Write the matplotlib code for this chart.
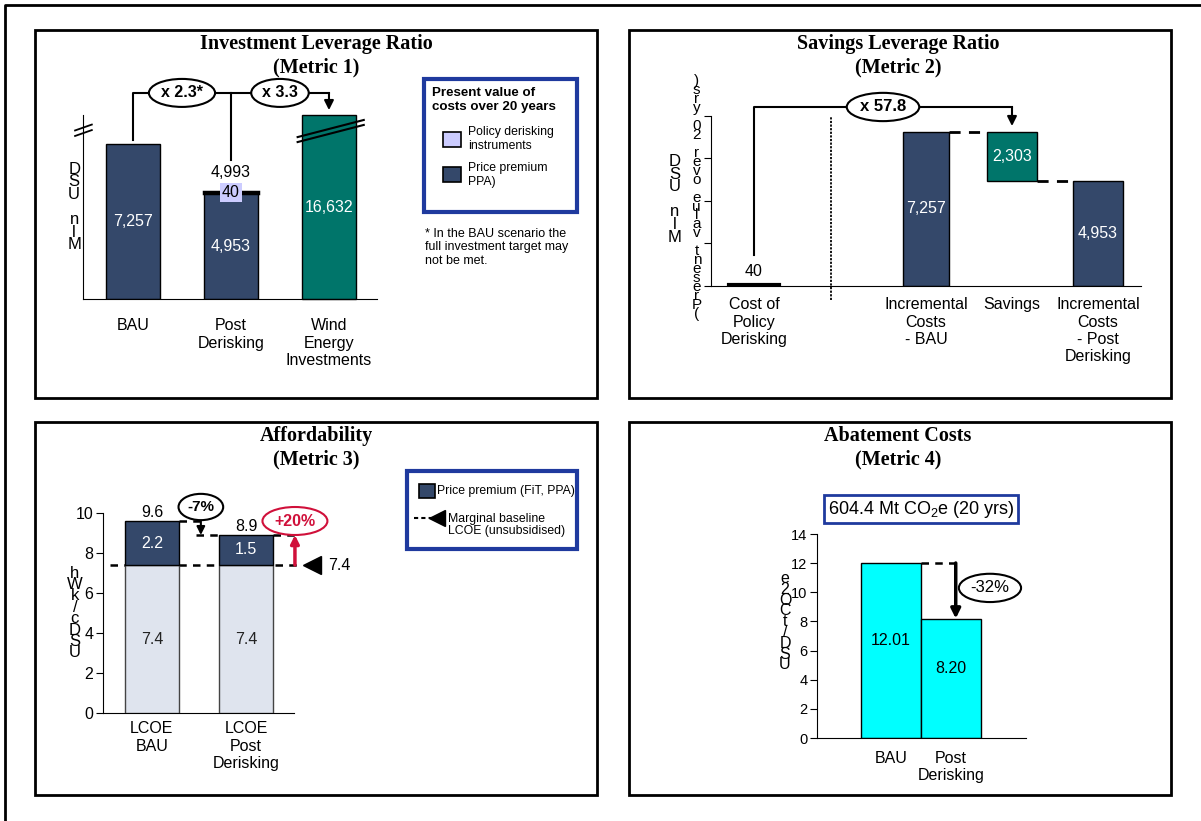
import matplotlib
matplotlib.use('Agg')
import matplotlib.pyplot as plt
from matplotlib.patches import Rectangle

# Metric 1 - investment leverage (mln USD)
m1_cats = ['BAU', 'Post\nDerisking', 'Wind\nEnergy\nInvestments']
m1_premium = [7257, 4953]
m1_policy = 40
m1_wind = 16632
m1_ratios = ['x 2.3*', 'x 3.3']

# Metric 2 - savings leverage (mln USD)
m2_cats = ['Cost of\nPolicy\nDerisking', 'Incremental\nCosts\n- BAU', 'Savings',
           'Incremental\nCosts\n- Post\nDerisking']
m2_policy_cost = 40
m2_bau = 7257
m2_savings = 2303
m2_post = 4953
m2_ratio = 'x 57.8'

# Metric 3 - affordability (USDc/kWh)
m3_cats = ['LCOE\nBAU', 'LCOE\nPost\nDerisking']
m3_lcoe = [7.4, 7.4]
m3_premium = [2.2, 1.5]
m3_baseline = 7.4
m3_changes = ['-7%', '+20%']

# Metric 4 - abatement costs (USD/tCO2e)
m4_cats = ['BAU', 'Post\nDerisking']
m4_cost = [12.01, 8.20]
m4_change = '-32%'
m4_abatement = '604.4 Mt CO$_2$e (20 yrs)'

NAVY = '#34486a'
TEAL = '#00756a'
LILAC = '#ccccff'
LIGHT = '#dfe4ee'
CYAN = '#00ffff'
BLUE = '#1f3a9e'
RED = '#d0103a'

plt.rcParams['font.family'] = ['Liberation Sans', 'DejaVu Sans']
plt.rcParams['mathtext.default'] = 'regular'

W, H = 1201, 821
fig = plt.figure(figsize=(W / 100, H / 100), dpi=100)

# overlay in pixel coordinates for frames, titles, legends
ov = fig.add_axes([0, 0, 1, 1], zorder=0)
ov.set_xlim(0, W)
ov.set_ylim(H, 0)
ov.axis('off')


def px_axes(x0, y0, x1, y1):
    a = fig.add_axes([x0 / W, 1 - y1 / H, (x1 - x0) / W, (y1 - y0) / H], zorder=2)
    a.set_facecolor('none')
    for s in ['top', 'right']:
        a.spines[s].set_visible(False)
    return a


def stacked(s):
    return '\n'.join(reversed(s))


def tag(ax, x, y, s, color='black', size=11, weight='bold'):
    ax.text(x, y, s, ha='center', va='center', fontsize=size, fontweight=weight, color=color,
            bbox=dict(boxstyle='ellipse,pad=0.15', fc='white', ec=color, lw=1.5), zorder=6,
            clip_on=False)


def arrow(ax, start, end, color='black', lw=1.5, ms=14):
    ax.annotate('', xy=end, xytext=start,
                arrowprops=dict(arrowstyle='-|>', color=color, lw=lw, mutation_scale=ms,
                                shrinkA=0, shrinkB=0), annotation_clip=False, zorder=5)


# outer frame and panel frames
ov.plot([5, 5, W], [H, 5, 5], color='black', lw=2)
for (x0, y0, x1, y1) in [(35, 30, 597, 398), (629, 30, 1171, 398),
                         (35, 422, 597, 795), (629, 422, 1171, 795)]:
    ov.add_patch(Rectangle((x0, y0), x1 - x0, y1 - y0, fill=False, ec='black', lw=2))

titles = [('Investment Leverage Ratio', '(Metric 1)', 316, 44),
          ('Savings Leverage Ratio', '(Metric 2)', 898, 44),
          ('Affordability', '(Metric 3)', 316, 436),
          ('Abatement Costs', '(Metric 4)', 898, 436)]
for t1, t2, cx, cy in titles:
    for i, t in enumerate([t1, t2]):
        ov.text(cx, cy + i * 23, t, ha='center', va='center', fontsize=14.5, fontweight='bold',
                family='Liberation Serif')

# ---------------- Metric 1 ----------------
ax1 = px_axes(83, 115, 377, 299)
ymax1 = 8620
ax1.set_ylim(0, ymax1)
ax1.set_xlim(-0.51, 2.49)
x1 = [0, 1, 2]
b_prem = ax1.bar(x1[:2], m1_premium, width=0.56, color=NAVY, ec='black', lw=1)
b_pol = ax1.bar(1, m1_policy, bottom=m1_premium[1], width=0.56, color=LILAC, ec='black', lw=2.5)
b_wind = ax1.bar(2, min(m1_wind, ymax1), width=0.56, color=TEAL, ec='black', lw=1, clip_on=False)
ax1.bar_label(b_prem, labels=[f'{v:,}' for v in m1_premium], label_type='center',
              color='white', fontsize=11.5)
ax1.bar_label(b_wind, labels=[f'{m1_wind:,}'], label_type='center', color='white', fontsize=11.5)
post_total = m1_premium[1] + m1_policy
ax1.text(1, post_total, f'{m1_policy}', ha='center', va='center', fontsize=11.5,
         bbox=dict(boxstyle='square,pad=0.1', fc=LILAC, ec='none'), zorder=4)
ax1.annotate(f'{post_total:,}', xy=(1, post_total), xytext=(0, 14), textcoords='offset points',
             ha='center', va='center', fontsize=11.5)
ax1.set_yticks([])
ax1.set_xticks(x1)
ax1.set_xticklabels(m1_cats, fontsize=11.5, va='top')
ax1.tick_params(axis='x', length=0, pad=14)
ax1.set_ylabel(stacked('Mln USD'), rotation=0, fontsize=12, linespacing=0.8,
               ha='center', va='center')
ax1.yaxis.set_label_coords(-0.03, 0.5)

# bracket with ratios
by1 = ymax1 * 1.12
ax1.plot([0, 0, 2], [m1_premium[0] + 200, by1, by1], color='black', lw=1.5, clip_on=False)
ax1.plot([1, 1], [post_total + 1500, by1], color='black', lw=1.5, clip_on=False)
arrow(ax1, (2, by1), (2, ymax1 + 230))
tag(ax1, 0.5, by1, m1_ratios[0], size=11.5)
tag(ax1, 1.5, by1, m1_ratios[1], size=11.5)

# axis break marks
for dy in [0, 0.03]:
    ax1.plot([-0.027, 0.03], [0.886 + dy, 0.918 + dy], transform=ax1.transAxes,
             color='black', lw=1.3, clip_on=False)
    ax1.plot([0.73, 0.955], [0.853 + dy * 0.9, 0.946 + dy * 0.9], transform=ax1.transAxes,
             color='black', lw=1.5, clip_on=False, zorder=4)

# legend box metric 1
ov.add_patch(Rectangle((424, 79), 153, 133, fill=False, ec=BLUE, lw=3))
ov.text(432, 87, 'Present value of\ncosts over 20 years', fontsize=9.6, fontweight='bold',
        va='top', linespacing=1.25)
ov.add_patch(Rectangle((443, 132), 18, 15, fc=LILAC, ec='black', lw=1.2))
ov.text(468, 139, 'Policy derisking\ninstruments', fontsize=8.8, va='center')
ov.add_patch(Rectangle((443, 167), 18, 15, fc=NAVY, ec='black', lw=1.2))
ov.text(468, 175, 'Price premium\nPPA)', fontsize=8.8, va='center')
ov.text(425, 228, '* In the BAU scenario the\nfull investment target may\nnot be met.',
        fontsize=9, va='top', linespacing=1.15)

# ---------------- Metric 2 ----------------
ax2 = px_axes(711, 116, 1141, 286)
ax2.set_ylim(0, 8000)
ax2.set_xlim(-0.5, 4.5)
x2 = [0, 2, 3, 4]
ax2.bar(x2[0], m2_policy_cost, width=0.57, color='black', ec='black', lw=3)
b_bau = ax2.bar(x2[1], m2_bau, width=0.54, color=NAVY, ec='black', lw=1)
b_sav = ax2.bar(x2[2], m2_savings, bottom=m2_bau - m2_savings, width=0.57, color=TEAL,
                ec='black', lw=1)
b_post = ax2.bar(x2[3], m2_post, width=0.57, color=NAVY, ec='black', lw=1)
for b, v in [(b_bau, m2_bau), (b_sav, m2_savings), (b_post, m2_post)]:
    ax2.bar_label(b, labels=[f'{v:,}'], label_type='center', color='white', fontsize=11.5)
ax2.annotate(f'{m2_policy_cost}', xy=(x2[0], m2_policy_cost), xytext=(0, 10),
             textcoords='offset points', ha='center', va='center', fontsize=11.5)
ax2.plot([x2[1] + 0.27, x2[2] - 0.285], [m2_bau, m2_bau], color='black', lw=2, ls='--',
         dashes=(4, 3))
ax2.plot([x2[2] + 0.285, x2[3] - 0.285], [m2_post, m2_post], color='black', lw=2, ls='--',
         dashes=(4, 3))
ax2.plot([0.9, 0.9], [-660, 7950], color='black', lw=1.3, ls='--', dashes=(1.2, 0.8),
         clip_on=False)
by2 = 8424
ax2.plot([x2[0], x2[0], x2[2]], [1460, by2, by2], color='black', lw=1.5, clip_on=False)
arrow(ax2, (x2[2], by2), (x2[2], m2_bau + 270))
tag(ax2, 1.5, by2, m2_ratio, size=12)
ax2.set_yticks(range(0, 8001, 2000))
ax2.set_yticklabels([])
ax2.tick_params(axis='y', length=5, direction='out')
ax2.set_xticks(x2)
ax2.set_xticklabels(m2_cats, fontsize=11.5, va='top')
ax2.tick_params(axis='x', length=0, pad=8)
ax2.set_ylabel(stacked('Mln USD'), rotation=0, fontsize=12, linespacing=0.8,
               ha='center', va='center')
ax2.yaxis.set_label_coords(-0.084, 0.51)
ax2.text(-0.033, 0.52, stacked('(Present value over 20 yrs)'), transform=ax2.transAxes,
         rotation=0, fontsize=11, linespacing=0.54, ha='center', va='center')

# ---------------- Metric 3 ----------------
ax3 = px_axes(103, 513, 294, 713)
ax3.set_ylim(0, 10)
ax3.set_xlim(-0.52, 1.51)
x3 = [0, 1]
b_lcoe = ax3.bar(x3, m3_lcoe, width=0.57, color=LIGHT, ec='#444444', lw=1, zorder=3)
b_prem3 = ax3.bar(x3, m3_premium, bottom=m3_lcoe, width=0.57, color=NAVY, ec='black', lw=1,
                  zorder=3)
ax3.bar_label(b_lcoe, labels=[f'{v}' for v in m3_lcoe], label_type='center', fontsize=11.5,
              color='#222222')
ax3.bar_label(b_prem3, labels=[f'{v}' for v in m3_premium], label_type='center',
              fontsize=11.5, color='white')
totals3 = [a + b for a, b in zip(m3_lcoe, m3_premium)]
for xi, t in zip(x3, totals3):
    ax3.annotate(f'{t:.1f}', xy=(xi, t), xytext=(0, 1), textcoords='offset points',
                 ha='center', va='bottom', fontsize=11.5)
dash = dict(color='black', lw=1.8, ls='--', dashes=(3, 2.5), clip_on=False)
ax3.plot([-0.45, 1.55], [m3_baseline, m3_baseline], zorder=2, **dash)
ax3.plot([1.70], [m3_baseline], marker='<', color='black', ms=13, clip_on=False)
ax3.text(1.87, m3_baseline, f'{m3_baseline}', va='center', fontsize=11.5)
ax3.plot([0.285, 0.52], [totals3[0], totals3[0]], **dash)
ax3.plot([0.47, 0.715], [totals3[1], totals3[1]], **dash)
ax3.plot([1.285, 1.55], [totals3[1], totals3[1]], **dash)
arrow(ax3, (0.52, totals3[0]), (0.52, totals3[1]), ms=12)
arrow(ax3, (1.52, m3_baseline), (1.52, totals3[1]), color=RED, lw=2.5, ms=12)
tag(ax3, 0.52, 10.3, m3_changes[0], size=11)
tag(ax3, 1.52, 9.6, m3_changes[1], color=RED, size=11.5)
ax3.set_yticks(range(0, 11, 2))
ax3.tick_params(axis='y', length=5, direction='out', labelsize=11.5, pad=2)
ax3.set_xticks(x3)
ax3.set_xticklabels(m3_cats, fontsize=11.5, va='top')
ax3.tick_params(axis='x', length=0, pad=6)
ax3.set_ylabel(stacked('USDc/kWh'), rotation=0, fontsize=12, linespacing=0.7,
               ha='center', va='center')
ax3.yaxis.set_label_coords(-0.147, 0.5)

# legend box metric 3
ov.add_patch(Rectangle((407, 471), 170, 78, fill=False, ec=BLUE, lw=3))
ov.add_patch(Rectangle((419, 484), 16, 14, fc=NAVY, ec='black', lw=1.2))
ov.text(437, 491, 'Price premium (FiT, PPA)', fontsize=8.8, va='center')
ov.plot([414, 432], [518, 518], color='black', lw=1.5, ls='--', dashes=(2, 1.5))
ov.plot([437], [518], marker='<', color='black', ms=11)
ov.text(448, 525, 'Marginal baseline\nLCOE (unsubsidised)', fontsize=8.8, va='center',
        linespacing=1.1)

# ---------------- Metric 4 ----------------
ax4 = px_axes(817, 534, 1026, 738)
ax4.set_ylim(0, 14)
ax4.set_xlim(-1.23, 2.25)
x4 = [0, 1]
ax4.bar(x4, m4_cost, width=1.0, color=CYAN, ec='black', lw=1)
for xi, v in zip(x4, m4_cost):
    ax4.annotate(f'{v:.2f}', xy=(xi, v / 2), xytext=(0, 7), textcoords='offset points',
                 ha='center', va='center', fontsize=11.5)
ax4.plot([0.5, 1.08], [m4_cost[0], m4_cost[0]], **dash)
arrow(ax4, (1.08, m4_cost[0]), (1.08, m4_cost[1]), lw=2.5, ms=14)
tag(ax4, 1.65, 10.3, m4_change, size=12, weight='normal')
ax4.set_yticks(range(0, 15, 2))
ax4.tick_params(axis='y', length=5, direction='out', labelsize=10.5, pad=2)
ax4.set_xticks(x4)
ax4.set_xticklabels(m4_cats, fontsize=11.5, va='top')
ax4.tick_params(axis='x', length=0, pad=9)
ax4.set_ylabel(stacked('USD/tCO2e'), rotation=0, fontsize=11.5, linespacing=0.65,
               ha='center', va='center')
ax4.yaxis.set_label_coords(-0.153, 0.57)
ov.text(921, 509, m4_abatement, ha='center', va='center', fontsize=13,
        bbox=dict(boxstyle='square,pad=0.22', fc='white', ec=BLUE, lw=2))

fig.savefig('out.png', dpi=100)
